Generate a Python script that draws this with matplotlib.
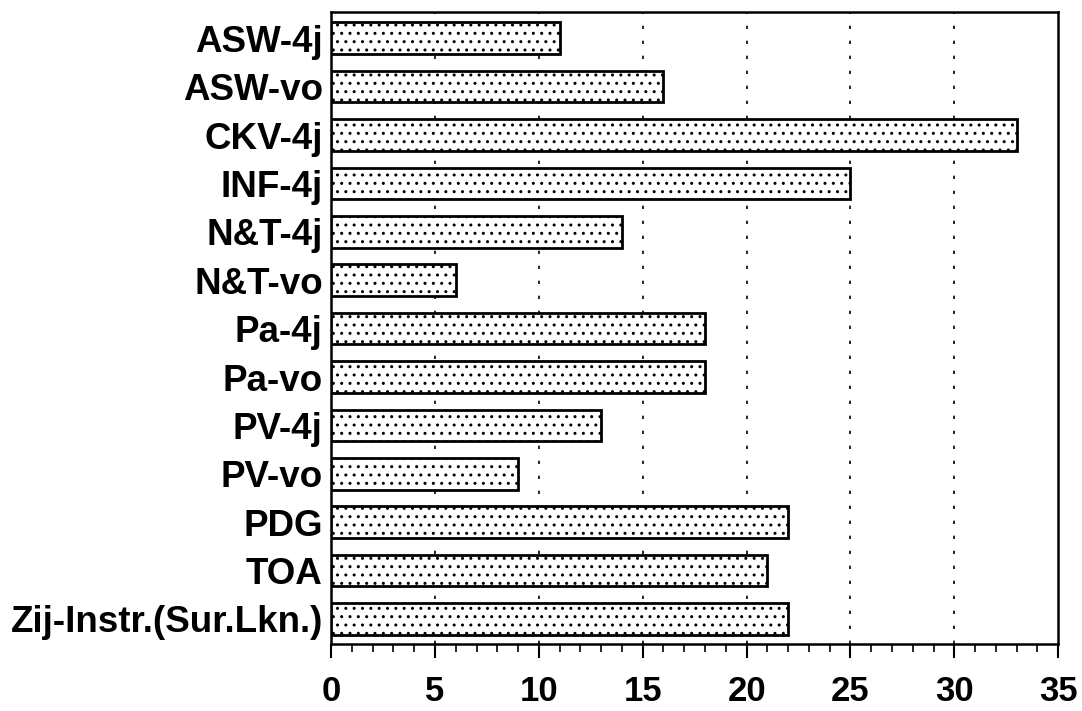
import matplotlib
matplotlib.use("Agg")
import matplotlib.pyplot as plt
from matplotlib.ticker import MultipleLocator

# Categories (top to bottom) and values
categories = ["ASW-4j", "ASW-vo", "CKV-4j", "INF-4j", "N&T-4j", "N&T-vo",
              "Pa-4j", "Pa-vo", "PV-4j", "PV-vo", "PDG", "TOA",
              "Zij-Instr.(Sur.Lkn.)"]
values = [11, 16, 33, 25, 14, 6, 18, 18, 13, 9, 22, 21, 22]
x_ticks = [0, 5, 10, 15, 20, 25, 30, 35]

plt.rcParams['font.family'] = ['Liberation Sans', 'DejaVu Sans']
plt.rcParams['hatch.linewidth'] = 1.0

fig = plt.figure(figsize=(10.82, 7.11), dpi=100)
ax = fig.add_axes([0.306, 0.094, 0.672, 0.889])

ypos = list(range(len(categories)))
ax.barh(ypos, values, height=0.65, color='white', edgecolor='black',
        linewidth=2, hatch='..', zorder=3)

ax.set_xlim(0, 35)
ax.set_ylim(12.52, -0.54)
ax.set_xticks(x_ticks)
ax.set_xticklabels([str(t) for t in x_ticks], fontsize=25, fontweight='bold')
ax.xaxis.set_minor_locator(MultipleLocator(1))
ax.set_yticks(ypos)
ax.set_yticklabels(categories, fontsize=26.5, fontweight='bold')

ax.tick_params(axis='x', which='major', direction='out', length=10, width=1.5, pad=12)
ax.tick_params(axis='x', which='minor', direction='out', length=6, width=1.2)
ax.tick_params(axis='y', length=0, pad=6)

# dashed vertical grid lines
for x in x_ticks[1:-1]:
    ax.axvline(x, color='black', linewidth=1.2, linestyle=(0, (2, 7)), zorder=1)

for sp in ax.spines.values():
    sp.set_linewidth(1.8)

fig.savefig("out.png", dpi=100)
